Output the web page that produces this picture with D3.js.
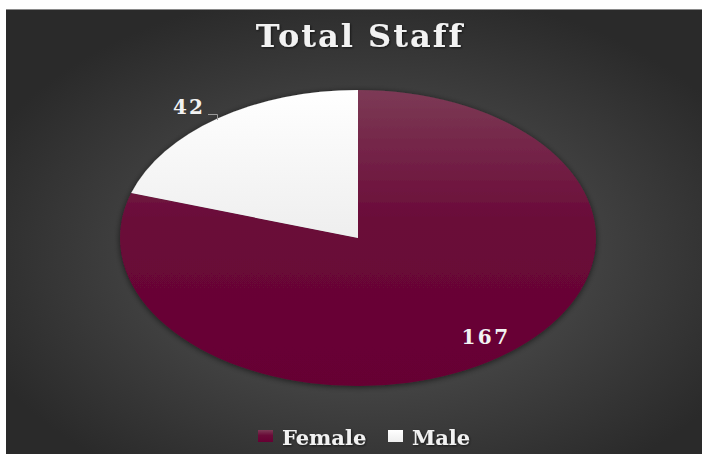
<!DOCTYPE html>
<html><head><meta charset="utf-8">
<script src="https://cdn.jsdelivr.net/npm/d3@7/dist/d3.min.js"></script>
<style>body{margin:0;background:#fff;}svg{display:block;}</style>
</head><body>
<script>
const categories = ["Female", "Male"];
const values = [167, 42];
const title = "Total Staff";

const W = 702, H = 454;
const svg = d3.select("body").append("svg").attr("width", W).attr("height", H);
const defs = svg.append("defs");

const bg = defs.append("radialGradient").attr("id", "bg").attr("cx", "52%").attr("cy", "55%").attr("r", "60%");
bg.append("stop").attr("offset", "0%").attr("stop-color", "#5c5c5c");
bg.append("stop").attr("offset", "100%").attr("stop-color", "#2a2a2a");

const gF = defs.append("linearGradient").attr("id", "gF").attr("x1", 0).attr("y1", 0).attr("x2", 0).attr("y2", 1);
gF.append("stop").attr("offset", "0%").attr("stop-color", "#7c3a55");
gF.append("stop").attr("offset", "45%").attr("stop-color", "#6a0a38");
gF.append("stop").attr("offset", "100%").attr("stop-color", "#660033");
const gM = defs.append("linearGradient").attr("id", "gM").attr("x1", 0).attr("y1", 0).attr("x2", 0).attr("y2", 1);
gM.append("stop").attr("offset", "0%").attr("stop-color", "#ffffff");
gM.append("stop").attr("offset", "100%").attr("stop-color", "#eeeeee");

const sh = defs.append("filter").attr("id", "sh").attr("x", "-10%").attr("y", "-10%").attr("width", "120%").attr("height", "120%");
sh.append("feGaussianBlur").attr("in", "SourceAlpha").attr("stdDeviation", 3).attr("result", "b");
sh.append("feOffset").attr("in", "b").attr("dx", 0).attr("dy", 1).attr("result", "o");
sh.append("feComponentTransfer").attr("in", "o").attr("result", "o2").append("feFuncA").attr("type", "linear").attr("slope", 0.6);
const m = sh.append("feMerge"); m.append("feMergeNode").attr("in", "o2"); m.append("feMergeNode").attr("in", "SourceGraphic");

const ts = defs.append("filter").attr("id", "ts");
ts.append("feDropShadow").attr("dx", 1).attr("dy", 1).attr("stdDeviation", 1).attr("flood-color", "#000").attr("flood-opacity", 0.6);

svg.append("rect").attr("x", 6).attr("y", 9).attr("width", W - 6).attr("height", H - 9).attr("fill", "url(#bg)");
svg.append("line").attr("x1", 6).attr("x2", W).attr("y1", 9.5).attr("y2", 9.5).attr("stroke", "#8a8a8a").attr("stroke-width", 1);

svg.append("text").attr("x", 360).attr("y", 47).attr("text-anchor", "middle")
  .attr("font-family", "'DejaVu Serif', serif").attr("font-weight", "bold").attr("font-size", 32)
  .attr("letter-spacing", 2).attr("fill", "#f2f2f2").attr("filter", "url(#ts)").text(title);

const cx = 358, cy = 238, rx = 238, ry = 148;
const pie = d3.pie().sort(null).value(d => d)(values);
const arc = d3.arc().innerRadius(0).outerRadius(rx);
const fills = ["url(#gF)", "url(#gM)"];
const pg = svg.append("g").attr("filter", "url(#sh)");
const inner = pg.append("g").attr("transform", `translate(${cx},${cy}) scale(1,${ry / rx})`);
inner.selectAll("path").data(pie).enter().append("path")
  .attr("d", arc).attr("fill", (d, i) => fills[i]);

// data labels
const lblFont = "'DejaVu Serif', serif";
svg.append("text").attr("x", 486).attr("y", 344).attr("text-anchor", "middle")
  .attr("font-family", lblFont).attr("font-weight", "bold").attr("font-size", 20).attr("letter-spacing", 2.5)
  .attr("fill", "#f2f2f2").text(values[0]);
svg.append("text").attr("x", 189).attr("y", 114).attr("text-anchor", "middle")
  .attr("font-family", lblFont).attr("font-weight", "bold").attr("font-size", 20).attr("letter-spacing", 2)
  .attr("fill", "#f2f2f2").text(values[1]);
svg.append("path").attr("d", "M208,114.5 H217.5 V120").attr("fill", "none").attr("stroke", "#999").attr("stroke-width", 1);

// legend
const legX = [258, 388];
const lg = svg.append("g");
categories.forEach((c, i) => {
  lg.append("rect").attr("x", legX[i]).attr("y", 430).attr("width", 15).attr("height", 12).attr("fill", fills[i]);
  lg.append("text").attr("x", legX[i] + 24).attr("y", 445)
    .attr("font-family", lblFont).attr("font-weight", "bold").attr("font-size", 21)
    .attr("fill", "#f2f2f2").attr("filter", "url(#ts)").text(c);
});
</script>
</body></html>
